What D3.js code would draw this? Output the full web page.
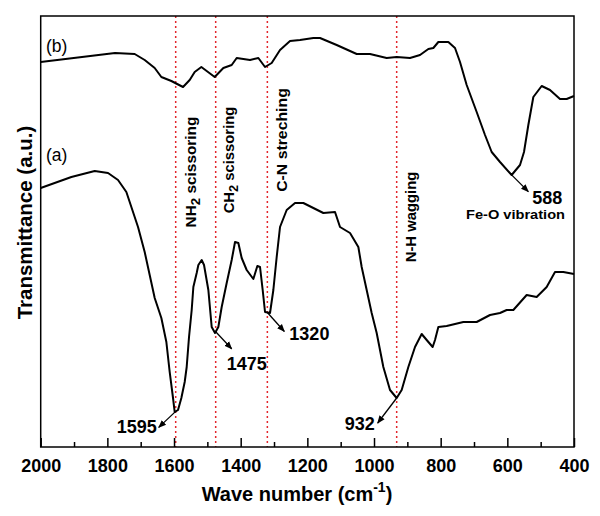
<!DOCTYPE html>
<html><head><meta charset="utf-8">
<script src="https://cdn.jsdelivr.net/npm/d3@7"></script>
<style>
body{margin:0;background:#fff}
text{font-family:"Liberation Sans",Arial,sans-serif}
</style>
</head><body>
<svg id="chart" width="600" height="516"></svg>
<script>
// ---- data (wavenumber in cm-1, transmittance in a.u.) ----
const waveA = [2000,1908,1838,1798,1768,1743,1728,1708,1688,1673,1658,1638,1623,1613,1603,1598,1588,1578,1568,1562,1555,1547,1542,1532,1527,1517,1510,1497,1487,1477,1467,1457,1442,1427,1417,1407,1397,1382,1362,1350,1342,1334,1327,1312,1302,1292,1282,1262,1237,1212,1182,1152,1117,1102,1072,1047,1037,1022,1007,992,972,952,932,917,897,877,857,842,824,817,807,782,732,692,652,622,602,582,542,512,482,457,432,400];
const transA = [259,270,276,274,267,255,240,220,195,172,149,129,105,75,49,35,37,49,65,80,110,137,160,174,182,187,182,157,120,114,120,140,164,187,205,204,189,177,168,181,180,157,135,134,157,190,220,237,244,244,239,234,235,220,214,200,180,157,134,114,80,57,49,57,80,100,113,107,100,107,120,121,125,125,132,134,137,137,152,150,160,175,175,173];
const waveB = [2000,1777,1718,1688,1658,1638,1608,1573,1553,1538,1518,1498,1478,1452,1427,1412,1372,1347,1327,1307,1282,1252,1222,1182,1162,1112,1052,1012,962,932,892,862,837,822,807,777,757,742,722,692,667,647,622,587,562,550,537,522,497,472,442,422,400];
const transB = [385,394,393,387,379,370,366,360,367,375,380,375,370,379,382,389,387,389,380,384,397,406,407,409,409,402,393,393,389,390,389,392,398,399,405,405,399,385,362,335,312,295,285,272,282,295,322,350,361,357,348,348,351];
const xTickValues = [2000,1800,1600,1400,1200,1000,800,600,400];
const xMinorValues = [1900,1700,1500,1300,1100,900,700,500];
const bandWaves = [1595,1475,1320,932];
const bandNames = [["NH","2"," scissoring"],["CH","2"," scissoring"],["C-N streching","",""],["N-H wagging","",""]];
const peakWaves = [1595,1475,1320,932,588];
const peakSeries = ["a","a","a","a","b"];
const peakLabels = ["1595","1475","1320","932","588"];
const seriesLabels = ["(a)","(b)"];

// ---- layout ----
const L = 40.7, R = 574, T = 16, B = 447;
const svg = d3.select("#chart");
const x = d3.scaleLinear().domain([2000,400]).range([L,R]);
const y = d3.scaleLinear().domain([0,431]).range([B,T]);

// red dotted band lines
svg.append("g").selectAll("line").data(bandWaves).join("line")
  .attr("x1", d=>x(d)).attr("x2", d=>x(d)).attr("y1", T).attr("y2", B)
  .attr("stroke", "#e3262c").attr("stroke-width", 1.5).attr("stroke-dasharray", "2,3");

// curves
const line = d3.line().x(d=>x(d[0])).y(d=>y(d[1]));
const dataA = d3.zip(waveA, transA), dataB = d3.zip(waveB, transB);
[dataA, dataB].forEach(ds => {
  svg.append("path").datum(ds).attr("d", line)
    .attr("fill","none").attr("stroke","#000").attr("stroke-width",2).attr("stroke-linejoin","round");
});

// axes
const ax = svg.append("g").attr("transform", `translate(0,${B})`)
  .call(d3.axisBottom(x).tickValues(xTickValues).tickFormat(d3.format("d")).tickSizeInner(-9).tickSizeOuter(0).tickPadding(12));
ax.select(".domain").remove();
ax.selectAll("line").attr("stroke-width",1.5);
ax.selectAll("text").attr("font-size",18).attr("font-weight","bold").attr("fill","#000");
const axm = svg.append("g").attr("transform", `translate(0,${B})`)
  .call(d3.axisBottom(x).tickValues(xMinorValues).tickFormat("").tickSizeInner(-5).tickSizeOuter(0));
axm.select(".domain").remove();
axm.selectAll("line").attr("stroke-width",1.5);

// frame
svg.append("rect").attr("x",L).attr("y",T).attr("width",R-L).attr("height",B-T)
  .attr("fill","none").attr("stroke","#000").attr("stroke-width",1.5);

// axis titles
const xt = svg.append("text").attr("x",297).attr("y",501).attr("text-anchor","middle")
  .attr("font-size",20).attr("font-weight","bold");
xt.append("tspan").text("Wave number (cm");
xt.append("tspan").attr("font-size",14).attr("dy",-9).text("-1");
xt.append("tspan").attr("dy",9).text(")");
svg.append("text").attr("transform","translate(31.5,222.5) rotate(-90)").attr("text-anchor","middle")
  .attr("font-size",20.5).attr("font-weight","bold").text("Transmittance (a.u.)");

// series labels
const seriesPos = [[46,161],[46,52]];
seriesLabels.forEach((s,i)=>{
  svg.append("text").attr("x",seriesPos[i][0]).attr("y",seriesPos[i][1])
    .attr("font-family","'Open Sans',sans-serif").attr("font-size",17.5).text(s);
});

// band labels (rotated)
const bandPos = [[195.5,172,1.1],[233.5,160,1.06],[287,140,1.13],[415.5,217,1.06]];
bandNames.forEach((n,i)=>{
  const t = svg.append("text")
    .attr("transform",`translate(${bandPos[i][0]},${bandPos[i][1]}) rotate(-90) scale(${bandPos[i][2]},1)`)
    .attr("text-anchor","middle").attr("font-size",14).attr("font-weight","bold");
  t.append("tspan").text(n[0]);
  if (n[1]) {
    t.append("tspan").attr("font-size",12).attr("dy",4).text(n[1]);
    t.append("tspan").attr("dy",-4).text(n[2]);
  }
});

// peak arrows & labels
svg.append("defs").append("marker").attr("id","ah").attr("viewBox","0 0 10 10")
  .attr("refX",9).attr("refY",5).attr("markerWidth",8).attr("markerHeight",8)
  .attr("markerUnits","userSpaceOnUse").attr("orient","auto")
  .append("path").attr("d","M0,1L10,5L0,9Z").attr("fill","#000");
function valueAt(ws, vs, w){
  for (let i=0;i<ws.length-1;i++){
    if (w<=ws[i] && w>=ws[i+1]){ const t=(ws[i]-w)/(ws[i]-ws[i+1]); return vs[i]+t*(vs[i+1]-vs[i]); }
  }
  return vs[vs.length-1];
}
// arrow vector (dx,dy) and label anchor offset
const arrowVec = [[-17,16],[16,17],[17,19],[-19,25],[17,17]];
const labelOff = [[-19,22,"end"],[11,38,"start"],[22,28,"start"],[-22,32,"end"],[21,29,"start"]];
peakWaves.forEach((w,i)=>{
  const v = peakSeries[i]==="a" ? valueAt(waveA,transA,w) : valueAt(waveB,transB,w);
  const px = x(w), py = y(v);
  svg.append("line").attr("x1",px).attr("y1",py)
    .attr("x2",px+arrowVec[i][0]).attr("y2",py+arrowVec[i][1])
    .attr("stroke","#000").attr("stroke-width",1.3).attr("marker-end","url(#ah)");
  svg.append("text").attr("x",px+labelOff[i][0]).attr("y",py+labelOff[i][1])
    .attr("text-anchor",labelOff[i][2]).attr("font-size",18).attr("font-weight","bold").text(peakLabels[i]);
});
svg.append("text").attr("x",565).attr("y",219).attr("text-anchor","end")
  .attr("font-size",13.5).attr("font-weight","bold").attr("textLength",99).attr("lengthAdjust","spacingAndGlyphs")
  .text("Fe-O vibration");
</script>
</body></html>
